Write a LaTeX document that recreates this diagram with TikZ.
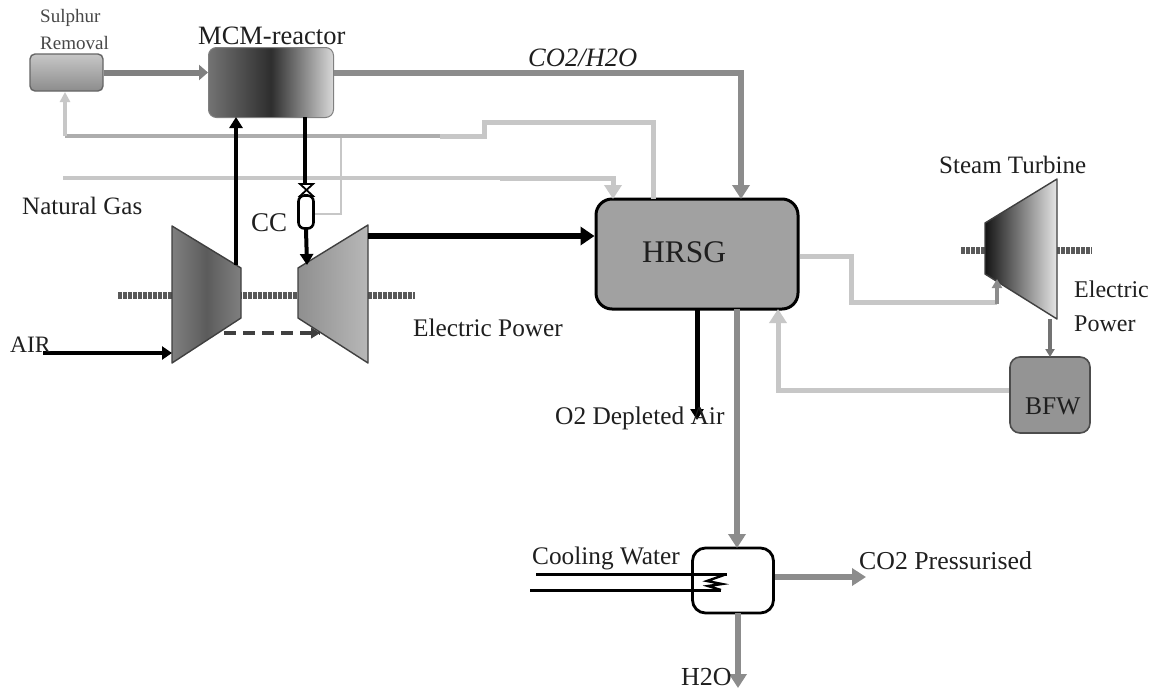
\documentclass[tikz,border=0pt]{standalone}
\usepackage{fontspec}
\setmainfont{Liberation Serif}
\usetikzlibrary{arrows.meta}
\definecolor{lg}{gray}{0.78}
\definecolor{ml}{gray}{0.68}
\definecolor{mg}{gray}{0.55}
\tikzset{
  x=1pt,y=-1pt,
  lbl/.style={inner sep=0pt,anchor=west,text=black!88},
  arrA/.style={-{Triangle[length=14pt,width=17pt]},line join=miter},
  arrB/.style={-{Triangle[length=10pt,width=13pt]},line join=miter},
  light/.style={draw=lg,line width=5pt,arrA},
  lightthin/.style={draw=lg,line width=2.6pt},
  med/.style={draw=mg,line width=5.8pt,arrA},
  blk/.style={draw=black,line width=3.6pt,arrB},
  shaftline/.style={draw=black!65,line width=7pt,dash pattern=on 3.5pt off 1.5pt},
  turb/.style={draw=black!75,line width=1.4pt,line join=round},
}
\begin{document}
\begin{tikzpicture}
\useasboundingbox (0,0) rectangle (1155,691);
\fill[white] (0,0) rectangle (1155,691);
% shafts
\draw[shaftline] (118,295) -- (415,295);
\draw[shaftline] (961,250) -- (1092,250);
% coordinates
\coordinate (ngA) at (63,178);
\coordinate (airS) at (43,353);
\coordinate (cwA) at (536,574);
\coordinate (cwB) at (530,590);
\coordinate (cwAe) at (727,574);
\coordinate (cwBe) at (721,590);
\coordinate (c1l) at (172,353);
\coordinate (t1r) at (368,236);
\coordinate (dashA) at (224,333);
\coordinate (dashB) at (320,333);
% boxes
\node[draw=black!60,line width=1.4pt,rounded corners=5pt,minimum width=73pt,minimum height=37pt,inner sep=0pt,top color=black!22,bottom color=black!45] (sulph) at (66.5,72.5) {};
\node[draw=black!50,line width=1pt,rounded corners=8pt,minimum width=125pt,minimum height=70pt,inner sep=0pt,left color=black!55,right color=black!15,middle color=black!82] (mcm) at (271,82.5) {};
\node[draw=black,line width=3pt,rounded corners=16pt,minimum width=202pt,minimum height=110pt,inner sep=0pt,fill=black!37] (hrsg) at (697,254) {};
\node[draw=black!70,line width=1.6pt,rounded corners=10pt,minimum width=80pt,minimum height=76pt,inner sep=0pt,fill=black!42] (bfw) at (1050,395) {};
\node[draw=black,line width=2.8pt,rounded corners=13pt,minimum width=81pt,minimum height=65pt,inner sep=0pt,fill=white] (hx) at (733,580.5) {};
% turbines
\path[turb,left color=black!50,right color=black!50,middle color=black!64] (172,226) -- (241,268) -- (241,318) -- (172,363) -- cycle;
\path[turb,left color=black!44,right color=black!28] (298,268) -- (368,225) -- (368,363) -- (298,318) -- cycle;
\path[turb,left color=black!92,right color=black!10] (985,223) -- (1057,179) -- (1057,319) -- (985,274) -- cycle;
% flows
\draw[draw=black!50,line width=6pt,-{Triangle[length=9pt,width=15pt]}] (sulph.east) -- (mcm.west|-sulph.east);
\draw[med] (mcm.east|-0,73) -- (741,73) -- (741,199);
\draw[draw=ml,line width=4pt] (65,136) -- (484,136);
\draw[draw=lg,line width=5pt,line join=miter] (653,199) -- (653,122) -- (484,122) -- (484,136) -- (440,136);
\draw[draw=lg,line width=4pt,-{Triangle[length=10pt,width=10pt]}] (65,136) -- (65,92);
\draw[draw=lg,line width=4.6pt] (ngA) -- (500,178);
\draw[light] (500,178) -- (613,178) -- (613,199);
\draw[lightthin] (341,138) -- (341,214) -- (314,214);
\draw[black,line width=3.6pt,-{Triangle[length=11pt,width=13pt]}] (236,265) -- (236,117);
\draw[black,line width=3.2pt] (305,117) -- (305,186);
\draw[black,line width=1.8pt,fill=white] (300,184) -- (313,196) -- (300,196) -- (313,184) -- cycle;
\node[draw=black,line width=2.6pt,rounded corners=6pt,minimum width=15pt,minimum height=33pt,inner sep=0pt,fill=white] (cc) at (306,212) {};
\draw[black,line width=4pt,-{Triangle[length=11pt,width=13pt]}] (cc.south) -- (307,265);
\draw[blk,line width=5.6pt,-{Triangle[length=14pt,width=18pt]}] (t1r) -- (hrsg.west|-t1r);
\draw[blk,line width=4.4pt] (airS) -- (c1l);
\draw[draw=black!75,line width=3.6pt,dash pattern=on 12pt off 7pt] (dashA) -- (dashB);
\draw[draw=black!75,line width=1pt,-{Triangle[length=9pt,width=11pt]}] (305,333) -- (dashB);
\draw[draw=lg,line width=5pt,line join=miter] (hrsg.east|-0,256) -- (851,256) -- (851,302) -- (997,302);
\draw[draw=black!45,line width=4pt,-{Triangle[length=9pt,width=10pt]}] (997,304) -- (997,279);
\draw[draw=black!55,line width=4pt,-{Triangle[length=8pt,width=9pt]}] (1050,319) -- (1050,357);
\draw[light] (bfw.west|-0,390) -- (778,390) -- (778,309);
\draw[black,line width=5pt,-{Triangle[length=11pt,width=13pt]}] (697,309) -- (697,420);
\draw[med] (737,309) -- (737,548);
\draw[med] (hx.east|-0,577) -- (866,577);
\draw[med] (738,613) -- (738,688);
% cooling coil
\draw[black,line width=3pt] (cwA) -- (cwAe);
\draw[black,line width=3pt] (cwB) -- (cwBe);
\draw[black,line width=2.4pt] (724,575) -- (707,581) -- (722,584) -- (708,586) -- (721,590);
% labels
\node[lbl,font=\fontsize{19}{22}\selectfont,text=black!72] (t1) at (40,18) {Sulphur};
\node[lbl,font=\fontsize{19}{22}\selectfont,text=black!72] (t2) at (40,43) {Removal};
\node[lbl,font=\fontsize{26.5}{28}\selectfont] (t3) at (198,36) {MCM-reactor};
\node[lbl,font=\fontsize{26.5}{28}\selectfont\itshape] (t4) at (528,58) {CO2/H2O};
\node[lbl,font=\fontsize{25}{28}\selectfont] (t5) at (22,206) {Natural Gas};
\node[lbl,font=\fontsize{27}{28}\selectfont] (t6) at (251,223) {CC};
\node[lbl,font=\fontsize{23.5}{28}\selectfont] (t7) at (10,345) {AIR};
\node[lbl,font=\fontsize{25.3}{28}\selectfont] (t8) at (413,328) {Electric Power};
\node[lbl,font=\fontsize{31.5}{34}\selectfont] (t9) at (642,252) {HRSG};
\node[lbl,font=\fontsize{25}{28}\selectfont] (t10) at (939,165) {Steam Turbine};
\node[lbl,font=\fontsize{24}{28}\selectfont] (t11) at (1074,289) {Electric};
\node[lbl,font=\fontsize{24}{28}\selectfont] (t12) at (1074,324) {Power};
\node[lbl,font=\fontsize{25.5}{28}\selectfont] (t13) at (1025,406) {BFW};
\node[lbl,font=\fontsize{25.4}{28}\selectfont] (t14) at (555,418) {O2 Depleted Air};
\node[lbl,font=\fontsize{25.3}{28}\selectfont] (t15) at (532,558) {Cooling Water};
\node[lbl,font=\fontsize{25.8}{28}\selectfont] (t16) at (859,561) {CO2 Pressurised};
\node[lbl,font=\fontsize{26}{28}\selectfont] (t17) at (681,677) {H2O};
\end{tikzpicture}
\end{document}
